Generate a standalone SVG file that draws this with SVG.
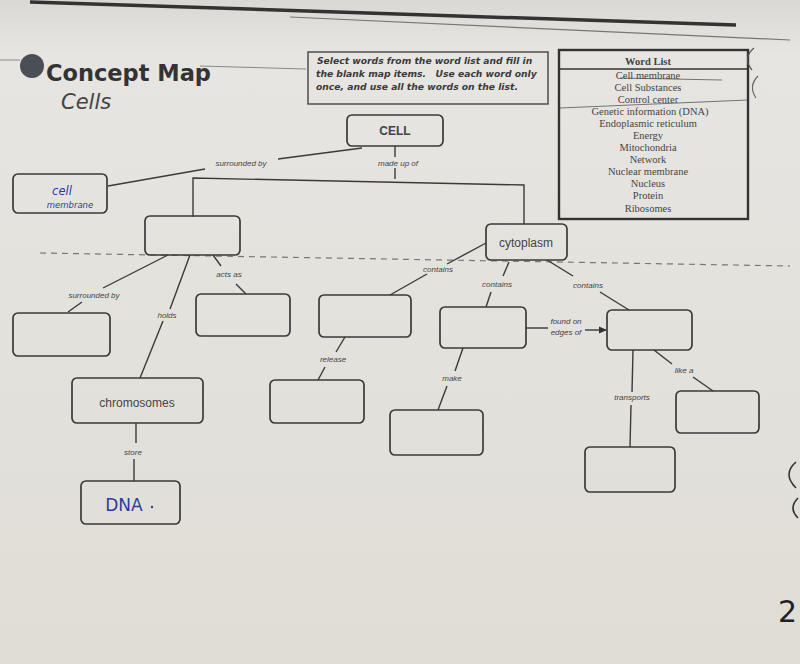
<svg xmlns="http://www.w3.org/2000/svg" width="800" height="664" viewBox="0 0 800 664">
<defs>
<linearGradient id="paper" x1="0" y1="0" x2="0" y2="1">
<stop offset="0" stop-color="#d9d8d4"/>
<stop offset="0.08" stop-color="#e6e5e1"/>
<stop offset="1" stop-color="#e0ddd6"/>
</linearGradient>
<marker id="arr" markerWidth="8" markerHeight="8" refX="7" refY="4" orient="auto" markerUnits="userSpaceOnUse">
<path d="M0,0.5 L8,4 L0,7.5 z" fill="#333"/>
</marker>
<style>
.box{fill:none;stroke:#3a3a3a;stroke-width:1.7}
.ln{fill:none;stroke:#3a3a3a;stroke-width:1.4}
.lbl{font-family:"Liberation Sans",Arial,sans-serif;font-size:8px;font-style:italic;fill:#444;text-anchor:middle}
.nt{font-family:"Liberation Sans",Arial,sans-serif;font-size:12px;fill:#444;text-anchor:middle}
.wl{font-family:"Liberation Serif","Times New Roman",serif;font-size:10.5px;fill:#444;text-anchor:middle}
.ins{font-family:"DejaVu Sans",sans-serif;font-size:9.2px;font-style:italic;font-weight:bold;fill:#3a3a3a}
.hw{font-family:"DejaVu Sans",sans-serif;fill:#2b3d9c;text-anchor:middle}
</style>
</defs>
<rect width="800" height="664" fill="url(#paper)"/>
<!-- page top lines -->
<path d="M30,2 L736,25" stroke="#333" stroke-width="3.5" fill="none"/>
<path d="M290,17 L790,40" stroke="#777" stroke-width="1.2" fill="none"/>
<path d="M0,60 L20,60 M200,66 L306,69" stroke="#888" stroke-width="1" fill="none"/>
<path d="M560,108 L748,100 M620,78 L722,80" stroke="#666" stroke-width="0.9" fill="none"/>
<!-- fold dashed line -->
<path d="M40,253 L790,266" stroke="#777" stroke-width="1.2" stroke-dasharray="6 5" fill="none"/>

<!-- title -->
<g id="title">
<circle cx="32" cy="66" r="12" fill="#4a4e55"/>
<text x="46" y="81" font-family="'DejaVu Sans',sans-serif" font-size="22.5" font-weight="bold" fill="#333">Concept Map</text>
<text x="61" y="109" font-family="'DejaVu Sans',sans-serif" font-size="21" font-style="italic" fill="#444">Cells</text>
</g>

<g id="instructions">
<rect x="308" y="52" width="240" height="52" fill="none" stroke="#444" stroke-width="1.4"/>
<text class="ins" x="317" y="64">Select words from the word list and fill in</text>
<text class="ins" x="316" y="77" xml:space="preserve">the blank map items.   Use each word only</text>
<text class="ins" x="316" y="90">once, and use all the words on the list.</text>
</g>

<g id="wordlist">
<rect x="559" y="50" width="189" height="169" fill="none" stroke="#333" stroke-width="2.4"/>
<line x1="559" y1="69" x2="748" y2="69" stroke="#333" stroke-width="1.6"/>
<text class="wl" x="648" y="65" font-size="12" font-weight="bold">Word List</text>
<text class="wl" x="648" y="79">Cell membrane</text>
<text class="wl" x="648" y="91">Cell Substances</text>
<text class="wl" x="648" y="103">Control center</text>
<text class="wl" x="650" y="115">Genetic information (DNA)</text>
<text class="wl" x="648" y="127">Endoplasmic reticulum</text>
<text class="wl" x="648" y="139">Energy</text>
<text class="wl" x="648" y="151">Mitochondria</text>
<text class="wl" x="648" y="163">Network</text>
<text class="wl" x="648" y="175">Nuclear membrane</text>
<text class="wl" x="648" y="187">Nucleus</text>
<text class="wl" x="648" y="199">Protein</text>
<text class="wl" x="648" y="212">Ribosomes</text>
</g>

<!-- connectors -->
<g id="connectors">
<path class="ln" d="M362,148 L278,159"/>
<path class="ln" d="M205,169 L108,186"/>
<path class="ln" d="M395,146 L395,157"/>
<path class="ln" d="M395,168 L395,179"/>
<path class="ln" d="M193,217 L193,178 L524,185 L524,224"/>
<path class="ln" d="M168,255 L103,288"/>
<path class="ln" d="M82,302 L68,312"/>
<path class="ln" d="M190,255 L170,309"/>
<path class="ln" d="M163,321 L140,378"/>
<path class="ln" d="M213,255 L221,266"/>
<path class="ln" d="M236,284 L246,294"/>
<path class="ln" d="M136,423 L136,443"/>
<path class="ln" d="M134,459 L134,481"/>
<path class="ln" d="M486,243 L447,264"/>
<path class="ln" d="M427,274 L390,295"/>
<path class="ln" d="M345,337 L336,352"/>
<path class="ln" d="M325,367 L318,380"/>
<path class="ln" d="M509,262 L503,276"/>
<path class="ln" d="M491,292 L486,307"/>
<path class="ln" d="M463,348 L455,371"/>
<path class="ln" d="M447,386 L438,410"/>
<path class="ln" d="M526,328 L548,328"/>
<path class="ln" d="M585,330 L606,330" marker-end="url(#arr)"/>
<path class="ln" d="M547,260 L573,276"/>
<path class="ln" d="M600,292 L629,310"/>
<path class="ln" d="M633,350 L632,392"/>
<path class="ln" d="M631,405 L630,447"/>
<path class="ln" d="M654,350 L672,364"/>
<path class="ln" d="M693,377 L713,391"/>
<text class="lbl" x="241" y="166">surrounded by</text>
<text class="lbl" x="398" y="166">made up of</text>
<text class="lbl" x="94" y="298">surrounded by</text>
<text class="lbl" x="167" y="318">holds</text>
<text class="lbl" x="229" y="277">acts as</text>
<text class="lbl" x="133" y="455">store</text>
<text class="lbl" x="438" y="272">contains</text>
<text class="lbl" x="497" y="287">contains</text>
<text class="lbl" x="588" y="288">contains</text>
<text class="lbl" x="333" y="362">release</text>
<text class="lbl" x="452" y="381">make</text>
<text class="lbl" x="566" y="324">found on</text>
<text class="lbl" x="566" y="335">edges of</text>
<text class="lbl" x="632" y="400">transports</text>
<text class="lbl" x="684" y="373">like a</text>
</g>

<!-- nodes -->
<g id="cell"><rect class="box" x="347" y="115" width="96" height="31" rx="5"/><text class="nt" x="395" y="135" font-weight="bold" font-size="11">CELL</text></g>
<g id="cell-membrane"><rect class="box" x="13" y="174" width="94" height="39" rx="5"/>
<text class="hw" x="62" y="195" font-size="11.5" font-style="italic">cell</text>
<text class="hw" x="70" y="208" font-size="8.5" font-style="italic">membrane</text></g>
<g id="nucleus"><rect class="box" x="145" y="216" width="95" height="39" rx="5"/></g>
<g id="cytoplasm"><rect class="box" x="486" y="224" width="81" height="36" rx="5"/><text class="nt" x="526" y="247" font-size="11">cytoplasm</text></g>
<g id="nuclear-membrane"><rect class="box" x="13" y="313" width="97" height="43" rx="5"/></g>
<g id="control-center"><rect class="box" x="196" y="294" width="94" height="42" rx="5"/></g>
<g id="chromosomes"><rect class="box" x="72" y="378" width="131" height="45" rx="5"/><text class="nt" x="137" y="407">chromosomes</text></g>
<g id="dna"><rect class="box" x="81" y="481" width="99" height="43" rx="5"/><text class="hw" x="124" y="511" font-size="17">DNA</text><circle cx="152" cy="507" r="1.2" fill="#2b3d9c"/></g>
<g id="mitochondria"><rect class="box" x="319" y="295" width="92" height="42" rx="5"/></g>
<g id="energy"><rect class="box" x="270" y="380" width="94" height="43" rx="5"/></g>
<g id="ribosomes"><rect class="box" x="440" y="307" width="86" height="41" rx="5"/></g>
<g id="protein"><rect class="box" x="390" y="410" width="93" height="45" rx="5"/></g>
<g id="er"><rect class="box" x="607" y="310" width="85" height="40" rx="5"/></g>
<g id="substances"><rect class="box" x="585" y="447" width="90" height="45" rx="5"/></g>
<g id="network"><rect class="box" x="676" y="391" width="83" height="42" rx="5"/></g>

<!-- margin marks -->
<path d="M754,48 Q742,58 752,70" stroke="#555" stroke-width="1.2" fill="none"/>
<path d="M758,76 Q748,86 756,98" stroke="#666" stroke-width="1.2" fill="none"/>
<path d="M796,462 Q782,474 796,488" stroke="#333" stroke-width="1.6" fill="none"/>
<path d="M798,498 Q788,508 798,518" stroke="#333" stroke-width="1.6" fill="none"/>
<text x="778" y="622" font-family="'DejaVu Sans',sans-serif" font-size="30" fill="#222">2</text>
</svg>
